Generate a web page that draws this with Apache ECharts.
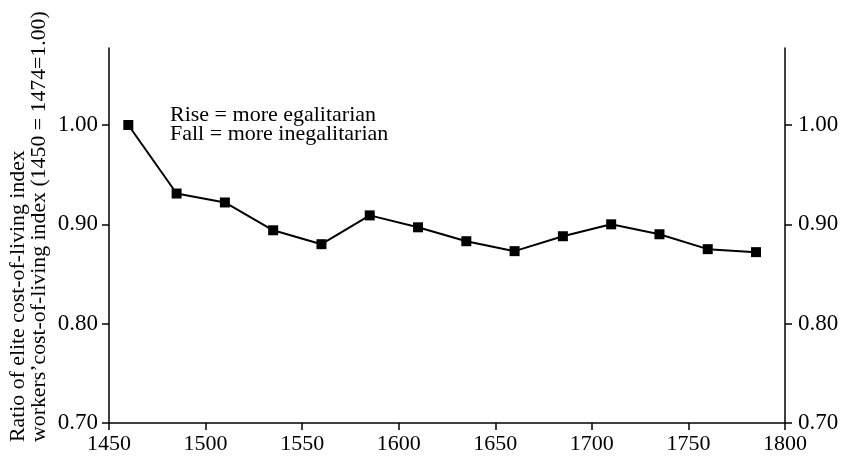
<!DOCTYPE html>
<html>
<head>
<meta charset="utf-8">
<script src="https://cdn.jsdelivr.net/npm/echarts@6/dist/echarts.min.js"></script>
<style>
html,body{margin:0;padding:0;background:#fff;}
#chart{width:845px;height:464px;}
</style>
</head>
<body>
<div id="chart"></div>
<script>
const years = [1460, 1485, 1510, 1535, 1560, 1585, 1610, 1635, 1660, 1685, 1710, 1735, 1760, 1785];
const ratio = [1.000, 0.931, 0.922, 0.894, 0.880, 0.909, 0.897, 0.883, 0.873, 0.888, 0.900, 0.890, 0.875, 0.872];
const yTicks = [0.70, 0.80, 0.90, 1.00];
const xTicks = [1450, 1500, 1550, 1600, 1650, 1700, 1750, 1800];
const titleLine1 = "Ratio of elite cost-of-living index";
const titleLine2 = "workers\u2019cost-of-living index (1450 = 1474=1.00)";
const note1 = "Rise = more egalitarian";
const note2 = "Fall = more inegalitarian";

const FONT = "'Liberation Serif', 'Times New Roman', serif";
const chart = echarts.init(document.getElementById('chart'));

const yAxisBase = {
  type: 'value',
  min: 0.7,
  max: 1.0775,
  interval: 0.1,
  splitLine: {show: false},
  axisLine: {show: true, onZero: false, lineStyle: {color: '#000', width: 1.5}},
  axisTick: {show: true, inside: false, length: 7, customValues: yTicks, lineStyle: {color: '#000', width: 1.5}},
  axisLabel: {
    customValues: yTicks,
    formatter: v => v.toFixed(2),
    color: '#000', fontFamily: FONT, fontSize: 23
  }
};

chart.setOption({
  animation: false,
  backgroundColor: '#fff',
  grid: {left: 109, right: 60, top: 48, bottom: 41, containLabel: false},
  xAxis: {
    type: 'value',
    min: 1450, max: 1800, interval: 50,
    splitLine: {show: false},
    axisLine: {show: true, onZero: false, lineStyle: {color: '#000', width: 1.5}},
    axisTick: {show: true, inside: false, length: 7, customValues: xTicks, lineStyle: {color: '#000', width: 1.5}},
    axisLabel: {customValues: xTicks, formatter: v => String(v), color: '#000', fontFamily: FONT, fontSize: 22, margin: 10}
  },
  yAxis: [
    Object.assign({}, yAxisBase, {position: 'left', axisLabel: Object.assign({}, yAxisBase.axisLabel, {margin: 11})}),
    Object.assign({}, yAxisBase, {position: 'right', axisLabel: Object.assign({}, yAxisBase.axisLabel, {margin: 13})})
  ],
  graphic: [
    {type: 'text', x: 18, y: 442, rotation: Math.PI / 2,
     style: {text: titleLine1, font: '21.8px ' + FONT, fill: '#000', align: 'left', verticalAlign: 'middle'}},
    {type: 'text', x: 39, y: 442, rotation: Math.PI / 2,
     style: {text: titleLine2, font: '21.8px ' + FONT, fill: '#000', align: 'left', verticalAlign: 'middle'}},
    {type: 'text', x: 170, y: 115,
     style: {text: note1, font: '22px ' + FONT, fill: '#000', align: 'left', verticalAlign: 'middle'}},
    {type: 'text', x: 170, y: 134,
     style: {text: note2, font: '22px ' + FONT, fill: '#000', align: 'left', verticalAlign: 'middle'}}
  ],
  series: [{
    type: 'line',
    xAxisIndex: 0,
    yAxisIndex: 0,
    data: years.map((y, i) => [y, ratio[i]]),
    symbol: 'rect',
    symbolSize: 10,
    showSymbol: true,
    lineStyle: {color: '#000', width: 2},
    itemStyle: {color: '#000'},
    silent: true
  }]
});
</script>
</body>
</html>
